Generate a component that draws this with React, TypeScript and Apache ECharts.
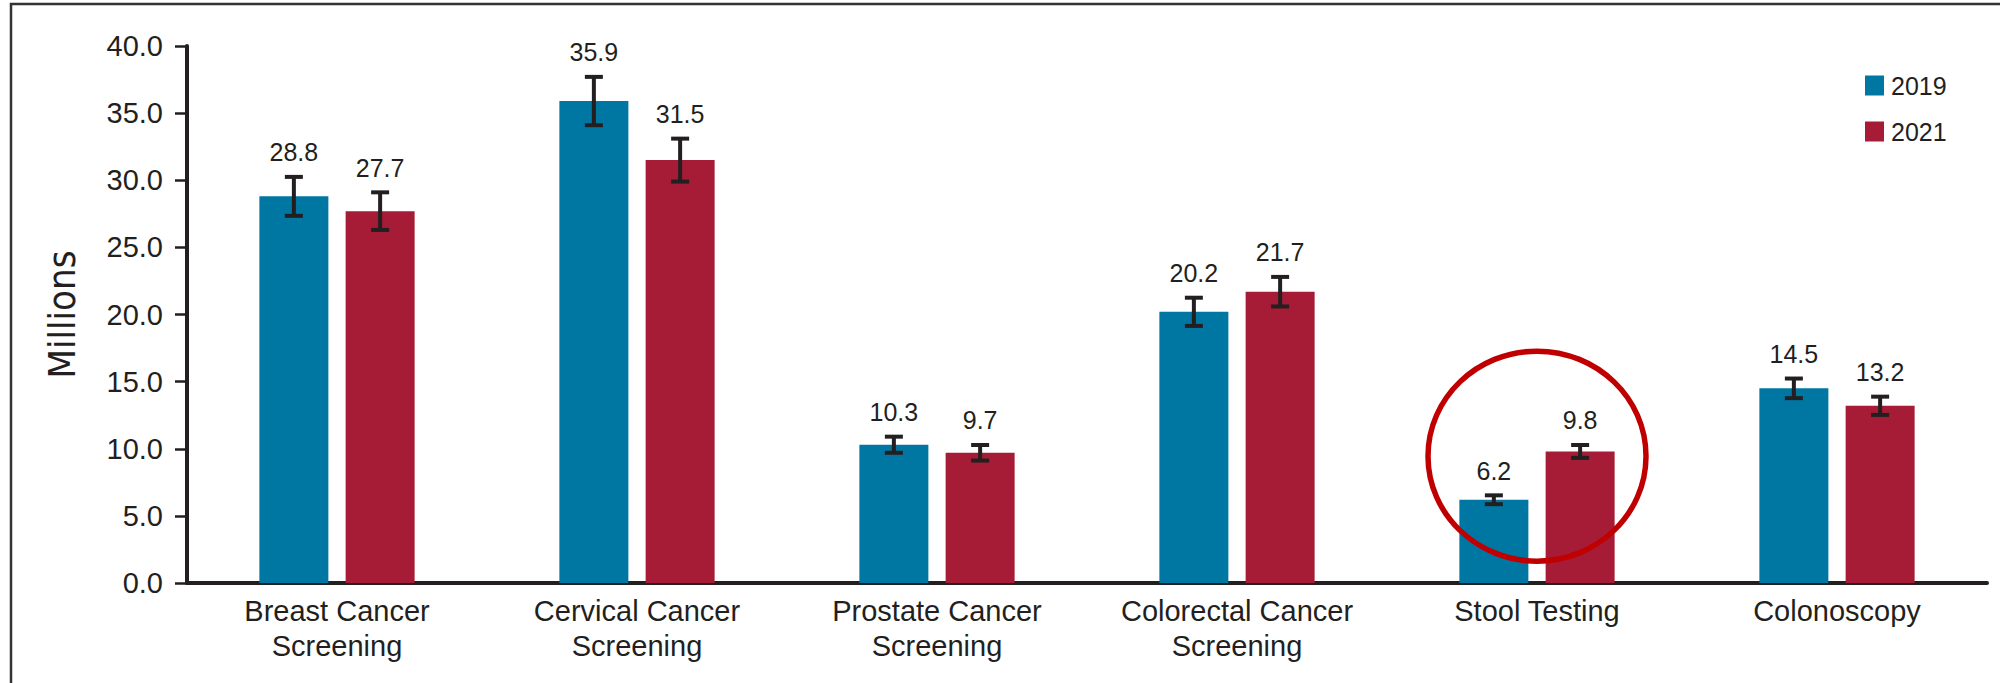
import React, { useEffect, useRef } from "react";
import * as echarts from "echarts";

// Screening volumes (millions) with 95% interval half-widths
const categories = [
  "Breast Cancer\nScreening",
  "Cervical Cancer\nScreening",
  "Prostate Cancer\nScreening",
  "Colorectal Cancer\nScreening",
  "Stool Testing",
  "Colonoscopy",
];
const values2019 = [28.8, 35.9, 10.3, 20.2, 6.2, 14.5];
const values2021 = [27.7, 31.5, 9.7, 21.7, 9.8, 13.2];
const err2019 = [1.45, 1.8, 0.6, 1.05, 0.33, 0.73];
const err2021 = [1.4, 1.6, 0.58, 1.1, 0.48, 0.68];
const yTicks = { min: 0, max: 40, interval: 5 };
const highlightCategory = "Stool Testing";
const highlightValue = 9.45;

const BLUE = "#0076a3";
const RED = "#a61c36";
const INK = "#231f20";
const FONT = "'Liberation Sans', Arial, sans-serif";
const BAR_WIDTH = 0.23; // fraction of category band
const BAR_GAP = 0.25; // fraction of bar width

function errorSeries(name: string, values: number[], errs: number[], side: number) {
  return {
    name,
    type: "custom",
    z: 5,
    encode: { x: 0, y: [1, 2] },
    data: values.map((v, i) => [i, v - errs[i], v + errs[i], v]),
    renderItem: (params: any, api: any) => {
      const idx = api.value(0);
      const band = api.size([1, 0])[0];
      const offset = side * band * BAR_WIDTH * (1 + BAR_GAP) / 2;
      const lo = api.coord([idx, api.value(1)]);
      const hi = api.coord([idx, api.value(2)]);
      const x = lo[0] + offset;
      const cap = 9;
      const lineStyle = { stroke: INK, lineWidth: 4 };
      return {
        type: "group",
        children: [
          { type: "line", shape: { x1: x, y1: lo[1], x2: x, y2: hi[1] }, style: lineStyle },
          { type: "line", shape: { x1: x - cap, y1: lo[1], x2: x + cap, y2: lo[1] }, style: lineStyle },
          { type: "line", shape: { x1: x - cap, y1: hi[1], x2: x + cap, y2: hi[1] }, style: lineStyle },
          {
            type: "text",
            style: {
              x,
              y: hi[1] - 12,
              text: api.value(3).toFixed(1),
              align: "center",
              verticalAlign: "bottom",
              fontSize: 25,
              fontFamily: FONT,
              fill: INK,
            },
          },
        ],
      };
    },
  };
}

export default function App() {
  const ref = useRef<HTMLDivElement>(null);

  useEffect(() => {
    if (!ref.current) return;
    const chart = echarts.init(ref.current, null, { renderer: "svg" });
    chart.setOption({
      animation: false,
      backgroundColor: "#ffffff",
      textStyle: { fontFamily: FONT },
      grid: { left: 187, right: 13, top: 46, bottom: 100, containLabel: false },
      legend: {
        data: ["2019", "2021"],
        orient: "vertical",
        left: 1865,
        top: 73,
        itemWidth: 19,
        itemHeight: 20,
        itemGap: 21,
        icon: "rect",
        textStyle: { fontSize: 25, color: INK, fontFamily: FONT, padding: [0, 0, 0, 2] },
        padding: 0,
      },
      xAxis: {
        type: "category",
        data: categories,
        axisLine: { lineStyle: { color: INK, width: 4 } },
        axisTick: { show: false },
        axisLabel: {
          fontSize: 29,
          lineHeight: 35,
          color: INK,
          fontFamily: FONT,
          margin: 10,
          interval: 0,
          verticalAlign: "top",
        },
      },
      yAxis: {
        type: "value",
        min: yTicks.min,
        max: yTicks.max,
        interval: yTicks.interval,
        name: "Millions",
        nameLocation: "middle",
        nameGap: 106,
        nameTextStyle: {
          fontSize: 38,
          color: INK,
          fontFamily: "'Liberation Sans Narrow', 'DejaVu Sans Condensed', sans-serif",
        },
        splitLine: { show: false },
        axisLine: { show: true, lineStyle: { color: INK, width: 4 } },
        axisTick: { show: true, length: 12, lineStyle: { color: INK, width: 2.5 } },
        axisLabel: {
          fontSize: 29,
          color: INK,
          fontFamily: FONT,
          margin: 24,
          formatter: (v: number) => v.toFixed(1),
        },
      },
      series: [
        {
          name: "2019",
          type: "bar",
          data: values2019,
          barWidth: `${BAR_WIDTH * 100}%`,
          barGap: `${BAR_GAP * 100}%`,
          itemStyle: { color: BLUE },
        },
        {
          name: "2021",
          type: "bar",
          data: values2021,
          barWidth: `${BAR_WIDTH * 100}%`,
          barGap: `${BAR_GAP * 100}%`,
          itemStyle: { color: RED },
        },
        errorSeries("2019 interval", values2019, err2019, -1),
        errorSeries("2021 interval", values2021, err2021, 1),
      ],
    });

    // Outer frame and the highlight ring around the stool-testing pair
    const c = chart.convertToPixel({ xAxisIndex: 0, yAxisIndex: 0 }, [
      categories.indexOf(highlightCategory),
      highlightValue,
    ]) as number[];
    chart.setOption({
      graphic: [
        {
          type: "rect",
          silent: true,
          shape: { x: 11, y: 4, width: 2200, height: 900 },
          style: { fill: "none", stroke: "#333333", lineWidth: 2.5 },
        },
        {
          type: "ellipse",
          silent: true,
          z: 100,
          shape: { cx: c[0], cy: c[1], rx: 109, ry: 105 },
          style: { fill: "none", stroke: "#c00000", lineWidth: 5.5 },
        },
      ],
    });

    return () => chart.dispose();
  }, []);

  return (
    <div
      ref={ref}
      style={{ position: "fixed", left: 0, top: 0, width: 2000, height: 683 }}
    />
  );
}
